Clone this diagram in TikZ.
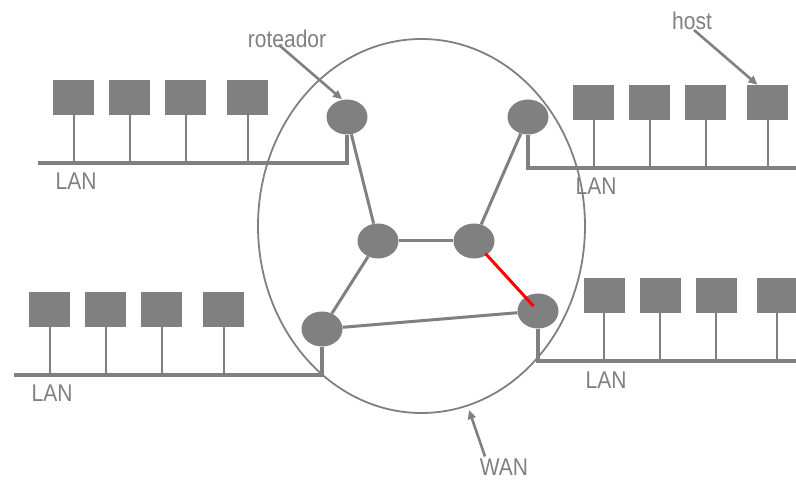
\documentclass[tikz,border=0pt]{standalone}
\usepackage{fontspec}
\setmainfont{Liberation Sans}
\usetikzlibrary{shapes.geometric,arrows.meta,calc}
\definecolor{netgray}{RGB}{128,128,128}
\begin{document}
\begin{tikzpicture}[x=1pt,y=-1pt,
  router/.style={ellipse,fill=netgray,draw=none,minimum width=41pt,minimum height=35pt,inner sep=0pt},
  hostbox/.style={rectangle,fill=netgray,draw=none,minimum width=41pt,minimum height=35pt,inner sep=0pt},
  bus/.style={draw=netgray,line width=3.5pt},
  stem/.style={draw=netgray,line width=2pt},
  link/.style={draw=netgray,line width=3pt},
  redlink/.style={draw=red,line width=3pt},
  pointer/.style={draw=netgray,line width=2.6pt,-{Triangle[length=9pt,width=8pt]}},
  lbl/.style={text=netgray,inner sep=0pt,font=\fontsize{21}{24}\selectfont}
]
\useasboundingbox (0,0) rectangle (796,481);

% WAN cloud
\node[ellipse,draw=netgray,line width=1.8pt,minimum width=327pt,minimum height=374pt,inner sep=0pt] (wan) at (421.5,226) {};

% routers
\node[router] (r1) at (347,117) {};
\node[router] (r2) at (528,117) {};
\node[router] (m1) at (378,241) {};
\node[router] (m2) at (474,241) {};
\node[router] (r3) at (322,329) {};
\node[router] (r4) at (538,311) {};

% top-left LAN
\node[hostbox] (a1) at (73.5,97.5) {};
\node[hostbox] (a2) at (129.5,97.5) {};
\node[hostbox] (a3) at (185.5,97.5) {};
\node[hostbox] (a4) at (247.5,97.5) {};
\coordinate (busA) at (38,163);
\draw[bus] (busA) -| (r1);
\foreach \h in {a1,a2,a3,a4} \draw[stem] (\h.south) -- (\h |- busA);
\node[lbl] (lanA) at (76,181) {\scalebox{1}[1.15]{LAN}};

% top-right LAN
\node[hostbox] (b1) at (593.5,102.5) {};
\node[hostbox] (b2) at (649.5,102.5) {};
\node[hostbox] (b3) at (705.5,102.5) {};
\node[hostbox] (b4) at (767.5,102.5) {};
\coordinate (busB) at (796,168);
\draw[bus] (r2) |- (busB);
\foreach \h in {b1,b2,b3,b4} \draw[stem] (\h.south) -- (\h |- busB);
\node[lbl] (lanB) at (596,186) {\scalebox{1}[1.15]{LAN}};

% bottom-left LAN
\node[hostbox] (c1) at (49.5,309.5) {};
\node[hostbox] (c2) at (105.5,309.5) {};
\node[hostbox] (c3) at (161.5,309.5) {};
\node[hostbox] (c4) at (223.5,309.5) {};
\coordinate (busC) at (14,375);
\draw[bus] (busC) -| (r3);
\foreach \h in {c1,c2,c3,c4} \draw[stem] (\h.south) -- (\h |- busC);
\node[lbl] (lanC) at (52,393) {\scalebox{1}[1.15]{LAN}};

% bottom-right LAN
\node[hostbox] (d1) at (604,295.5) {};
\node[hostbox] (d2) at (660,295.5) {};
\node[hostbox] (d3) at (716,295.5) {};
\node[hostbox] (d4) at (777,295.5) {};
\coordinate (busD) at (796,361);
\draw[bus] (r4) |- (busD);
\foreach \h in {d1,d2,d3,d4} \draw[stem] (\h.south) -- (\h |- busD);
\node[lbl] (lanD) at (606,380) {\scalebox{1}[1.15]{LAN}};

% WAN links
\draw[link] (r1) -- (m1);
\draw[link] (r2) -- (m2);
\draw[link] (m1) -- (m2);
\draw[link] (m1) -- (r3);
\draw[link] (r3) -- (r4);
\draw[redlink] ($(m2.center)!0.18!(r4.center)$) -- ($(m2.center)!0.93!(r4.center)$);

% labels and pointers
\node[lbl] (lblR) at (287,39) {\scalebox{1}[1.15]{roteador}};
\coordinate (pR) at (279,45);
\draw[pointer] (pR) -- ($(r1.north)+(-5,0)$);

\node[lbl] (lblH) at (692,21) {\scalebox{1}[1.15]{host}};
\coordinate (pH) at (694,30);
\draw[pointer] (pH) -- ($(b4.north)+(-10,0)$);

\node[lbl] (lblW) at (504,467) {\scalebox{1}[1.15]{WAN}};
\coordinate (wanEdge) at (469,410);
\draw[pointer] ($(lblW.north)+(-19,-2)$) -- (wanEdge);
\end{tikzpicture}
\end{document}
